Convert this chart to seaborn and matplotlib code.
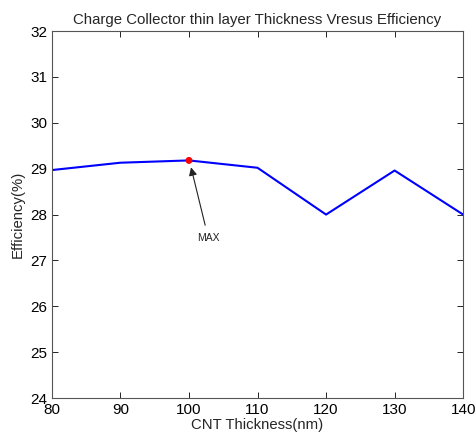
import matplotlib
matplotlib.use("Agg")
import matplotlib.pyplot as plt
import seaborn as sns
import pandas as pd

thickness = [80, 90, 100, 110, 120, 130, 140]
efficiency = [28.97, 29.13, 29.18, 29.02, 28.0, 28.96, 28.0]
max_x = [100]
max_y = [29.18]
x_ticks = [80, 90, 100, 110, 120, 130, 140]
y_ticks = [24, 25, 26, 27, 28, 29, 30, 31, 32]

sns.set_style("white")
plt.rcParams['font.family'] = ['Liberation Sans', 'DejaVu Sans']

df = pd.DataFrame({"x": thickness, "y": efficiency})
dm = pd.DataFrame({"x": max_x, "y": max_y})

fig = plt.figure(figsize=(4.76, 4.37), dpi=100)
ax = fig.add_axes([0.109, 0.089, 0.864, 0.840])
sns.lineplot(data=df, x="x", y="y", ax=ax, color="#0000ff", linewidth=1.5)
sns.scatterplot(data=dm, x="x", y="y", ax=ax, color="#ff0000", s=25, edgecolor="none", zorder=5)

ax.annotate("MAX", xy=(100.3, 29.03), xytext=(102.8, 27.5),
            ha="center", va="center", fontsize=7.5, color="#222222",
            arrowprops=dict(arrowstyle="-|>", color="#222222", lw=0.8, mutation_scale=12,
                            shrinkA=3, shrinkB=0))

ax.set_xlim(80, 140)
ax.set_ylim(24, 32)
ax.set_xticks(x_ticks)
ax.set_yticks(y_ticks)
ax.tick_params(direction="in", length=4, width=0.6, labelsize=11, colors="black",
               top=True, right=True, bottom=True, left=True,
               labeltop=False, labelright=False)
for s in ax.spines.values():
    s.set_color("#555555")
    s.set_linewidth(0.8)
ax.set_xlabel("CNT Thickness(nm)", fontsize=10.7, labelpad=1)
ax.set_ylabel("Efficiency(%)", fontsize=10.7, labelpad=4)
ax.set_title("Charge Collector thin layer Thickness Vresus Efficiency", fontsize=10.8, pad=5)

fig.savefig("out.png", dpi=100)
